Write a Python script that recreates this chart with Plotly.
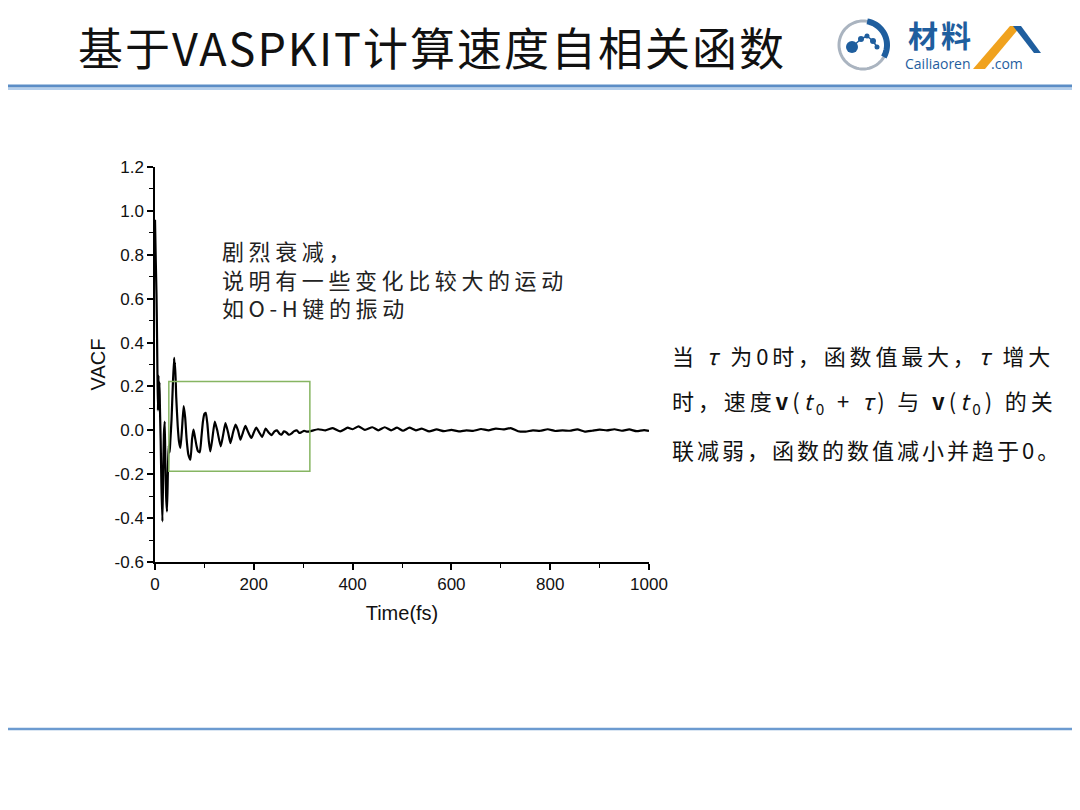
import math
import plotly.graph_objects as go

# VACF curve (time in fs)
time_fs = [0, 1.5, 3, 4.2, 5, 6, 7, 8, 9, 10, 11.5, 13, 15, 16.5, 18, 19.7, 21, 22.5, 24.3,
           26, 27.5, 28.4, 29.7, 31, 33.5, 36, 38.6, 39.5, 40.5, 43, 46, 48.5, 51.4, 54.5,
           58, 61, 64, 67.5, 71.7, 75, 77.8, 80, 84, 87, 90.6, 94, 97, 100, 102.7, 106,
           109, 112, 116, 121, 126, 133, 138, 142.6, 148, 152.7, 158, 163, 168, 173, 178,
           183, 189, 195, 200, 205, 211, 217, 224, 230, 236, 242, 247, 252, 256, 261, 266,
           271, 276, 281, 287, 292, 297, 302, 307, 313, 330, 345, 360, 375, 390, 400, 412,
           425, 440, 452, 465, 478, 490, 502, 515, 528, 540, 555, 570, 585, 600, 615, 630,
           645, 660, 675, 690, 705, 720, 735, 750, 765, 780, 795, 810, 825, 840, 855, 870,
           885, 900, 915, 930, 945, 960, 975, 990, 1000]
vacf = [0.96, 0.78, 0.62, 0.42, 0.25, 0.09, 0.25, 0.12, 0.22, 0.10, -0.05, -0.25, -0.415,
        -0.2, -0.02, 0.04, -0.15, -0.3, -0.37, -0.2, -0.07, -0.08, -0.10, -0.05, 0.05, 0.2,
        0.33, 0.29, 0.31, 0.15, 0.02, -0.05, -0.08, 0.0, 0.11, 0.06, -0.04, -0.11, -0.134,
        -0.04, 0.003, -0.02, -0.07, -0.095, -0.10, -0.03, 0.04, 0.075, 0.08, 0.03, -0.05,
        -0.096, -0.04, 0.04, 0.0, -0.073, -0.02, 0.033, -0.01, -0.058, -0.01, 0.026, 0.0,
        -0.043, -0.01, 0.02, -0.01, -0.035, -0.01, 0.013, -0.01, -0.03, 0.008, -0.01,
        -0.022, -0.005, 0.0, -0.015, -0.02, -0.005, -0.01, -0.02, -0.015, -0.005, 0.0,
        -0.012, -0.008, -0.002, -0.006, -0.005, 0.005, 0.0, 0.01, -0.005, 0.012, 0.005,
        0.018, 0.002, 0.014, 0.0, 0.014, 0.0, 0.012, -0.002, 0.012, 0.0, 0.008, -0.005,
        0.004, -0.004, 0.002, -0.005, 0.0, -0.002, 0.006, 0.0, 0.008, 0.004, 0.01, -0.004,
        -0.006, 0.0, -0.002, 0.005, -0.003, 0.0, -0.002, 0.004, -0.006, -0.002, 0.003, 0.0,
        0.005, -0.002, 0.004, -0.004, 0.001, -0.003]

y_ticks = [-0.6, -0.4, -0.2, 0.0, 0.2, 0.4, 0.6, 0.8, 1.0, 1.2]
y_labels = ["-0.6", "-0.4", "-0.2", "0.0", "0.2", "0.4", "0.6", "0.8", "1.0", "1.2"]
x_ticks = [0, 200, 400, 600, 800, 1000]

# highlighted window (fs, VACF)
box_t = [28, 313.5]
box_v = [-0.187, 0.223]

W, H = 1080, 810
OFF = 8  # page margin around the plot div
L, T = 155 - OFF, 167 - OFF
R, B = W - (649 - OFF), H - (562 - OFF)
pw, ph = W - L - R, H - T - B


def px(x):
    return (x - OFF - L) / pw


def py(y):
    return (H - B - (y - OFF)) / ph


CJK = "Noto Sans CJK SC"
ARIAL = "Liberation Sans, Arial"

fig = go.Figure()
fig.add_trace(go.Scatter(
    x=time_fs, y=vacf, mode="lines",
    line=dict(color="black", width=2.2, shape="spline", smoothing=0.5),
    showlegend=False, hoverinfo="skip",
))

axis_common = dict(
    showline=True, linecolor="black", linewidth=1.5, mirror=False,
    ticks="outside", ticklen=6, tickwidth=1.5, tickcolor="black",
    showgrid=False, zeroline=False,
    tickfont=dict(family=ARIAL, size=17, color="#111"),
    title_font=dict(family=ARIAL, size=20, color="#111"),
)
fig.update_xaxes(
    range=[0, 1000], tickvals=x_ticks, title_text="Time(fs)", title_standoff=13,
    minor=dict(dtick=100, ticklen=4, tickwidth=1.2, tickcolor="black", ticks="outside"),
    **axis_common,
)
fig.update_yaxes(
    range=[-0.6, 1.2], tickvals=y_ticks, ticktext=y_labels, title_text="VACF",
    title_standoff=4,
    minor=dict(dtick=0.1, ticklen=4, tickwidth=1.2, tickcolor="black", ticks="outside"),
    **axis_common,
)

shapes = [
    dict(type="rect", xref="x", yref="y", x0=box_t[0], x1=box_t[1], y0=box_v[0], y1=box_v[1],
         line=dict(color="#86b562", width=1.5)),
    # header rule
    dict(type="line", xref="paper", yref="paper", x0=px(0), x1=px(W + 10), y0=py(86), y1=py(86),
         line=dict(color="#5b8dc6", width=3)),
    dict(type="line", xref="paper", yref="paper", x0=px(0), x1=px(W + 10), y0=py(89), y1=py(89),
         line=dict(color="#b5cfec", width=2)),
    # footer rule
    dict(type="line", xref="paper", yref="paper", x0=px(0), x1=px(W + 10), y0=py(729), y1=py(729),
         line=dict(color="#6c9bd0", width=2.5)),
]

# logo ring
cx, cy, rr = 863, 45, 24
ring = []
for k in range(73):
    a = 2 * math.pi * k / 72
    ring.append((cx + rr * math.cos(a), cy + rr * math.sin(a)))
path = "M " + " L ".join(f"{px(x):.5f},{py(y):.5f}" for x, y in ring) + " Z"
shapes.append(dict(type="path", xref="paper", yref="paper", path=path,
                   line=dict(color="#aab4c0", width=3)))
arc = []
for k in range(31):
    a = math.radians(-80 + 110 * k / 30)
    arc.append((cx + rr * math.cos(a), cy + rr * math.sin(a)))
path = "M " + " L ".join(f"{px(x):.5f},{py(y):.5f}" for x, y in arc)
shapes.append(dict(type="path", xref="paper", yref="paper", path=path,
                   line=dict(color="#1f5e9e", width=6)))
# molecule
atoms = [(852, 47, 6), (861, 39, 3), (867, 36, 2.5), (873, 41, 3), (877, 47, 2.5)]
for i in range(len(atoms) - 1):
    shapes.append(dict(type="line", xref="paper", yref="paper",
                       x0=px(atoms[i][0]), y0=py(atoms[i][1]),
                       x1=px(atoms[i + 1][0]), y1=py(atoms[i + 1][1]),
                       line=dict(color="#1f5e9e", width=1.5)))
for x, y, r in atoms:
    shapes.append(dict(type="circle", xref="paper", yref="paper",
                       x0=px(x - r), x1=px(x + r), y0=py(y - r), y1=py(y + r),
                       fillcolor="#1f5e9e", line=dict(width=0)))
# "人" strokes
orange = [(973, 69), (985, 69), (1021, 26), (1010, 26)]
blue = [(1013, 26), (1021, 26), (1041, 53), (1034, 53)]
for poly, col in [(orange, "#f0a21e"), (blue, "#1f5e9e")]:
    path = "M " + " L ".join(f"{px(x):.5f},{py(y):.5f}" for x, y in poly) + " Z"
    shapes.append(dict(type="path", xref="paper", yref="paper", path=path,
                       fillcolor=col, line=dict(width=0)))


def spaced(s, sp):
    return f'<span style="letter-spacing:{sp}px">{s}</span>'


annotations = [
    dict(x=px(432), y=py(47), text=spaced("基于VASPKIT计算速度自相关函数", 2),
         font=dict(family=CJK, size=45, color="#111")),
    dict(x=px(941), y=py(34), text=spaced("<b>材料</b>", 3),
         font=dict(family=CJK, size=30, color="#1f5e9e")),
    dict(x=px(903), y=py(64), text="Cailiaoren", xanchor="left",
         font=dict(family="Open Sans", size=14, color="#1f5e9e")),
    dict(x=px(989), y=py(64), text=".com", xanchor="left",
         font=dict(family="Open Sans", size=14, color="#1f5e9e")),
    dict(x=px(220), y=py(278), xanchor="left", align="left",
         text="<br>".join(spaced(s, 4.6) for s in
                          ["剧烈衰减，", "说明有一些变化比较大的运动", "如O-H键的振动"]),
         font=dict(family=CJK, size=22, color="#222")),
]
right_lines = [
    ("当 <i>τ</i> 为0时，函数值最大，<i>τ</i> 增大", 355, 3.8),
    ("时，速度<b>v</b>(<i>t</i><sub>0</sub> + <i>τ</i>) 与 <b>v</b>(<i>t</i><sub>0</sub>) 的关", 401, 3.9),
    ("联减弱，函数的数值减小并趋于0。", 449, 3),
]
for text, yy, sp in right_lines:
    annotations.append(dict(x=px(670), y=py(yy), text=spaced(text, sp), xanchor="left",
                            font=dict(family=CJK, size=22, color="#111")))
for a in annotations:
    a.update(xref="paper", yref="paper", showarrow=False, yanchor="middle")
    a.setdefault("xanchor", "center")

fig.update_layout(
    width=W, height=H,
    margin=dict(l=L, r=R, t=T, b=B, autoexpand=False),
    paper_bgcolor="white", plot_bgcolor="white",
    shapes=shapes, annotations=annotations,
)
fig.write_html("out.html")
